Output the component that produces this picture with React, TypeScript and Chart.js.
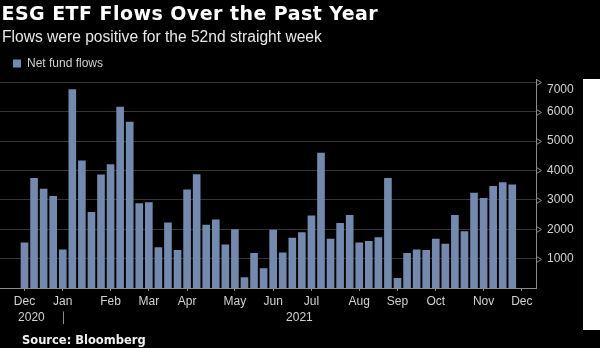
import React, { useEffect, useRef } from 'react';
import { Chart, registerables } from 'chart.js';

Chart.register(...registerables);

// Weekly net fund flows into ESG ETFs (USD millions), Dec 2020 – Nov 2021
const flows = [
  1550, 3740, 3380, 3130, 1310, 6760, 4340, 2590, 3860, 4210,
  6170, 5660, 2880, 2920, 1390, 2230, 1290, 3350, 3870, 2150,
  2330, 1480, 2000, 370, 1190, 670, 1980, 1210, 1710, 1900,
  2470, 4600, 1680, 2210, 2480, 1550, 1600, 1730, 3740, 340,
  1190, 1310, 1290, 1680, 1510, 2480, 1930, 3240, 3060, 3470,
  3600, 3520,
];
const weekIndex = flows.map((_, i) => i + 1);

// First week of each month on the week axis
const monthTickWeeks = [1, 5, 10, 14, 18, 23, 27, 31, 36, 40, 44, 49, 53];
const monthLabels = ['Dec', 'Jan', 'Feb', 'Mar', 'Apr', 'May', 'Jun', 'Jul', 'Aug', 'Sep', 'Oct', 'Nov', 'Dec'];
const yearLabels = ['2020', '2021'];
const yearBreakWeek = 5;

const yTickValues = [1000, 2000, 3000, 4000, 5000, 6000, 7000];

const seriesLabel = 'Net fund flows';
const titleText = 'ESG ETF Flows Over the Past Year';
const subtitleText = 'Flows were positive for the 52nd straight week';
const sourceText = 'Source: Bloomberg';

const BAR = '#7389ad';
const AXIS = '#8c8c8c';
const GRID = '#353535';
const LABEL = '#d2d2d2';
const SANS = '"Liberation Sans", Arial, sans-serif';

export default function App() {
  const ref = useRef<HTMLCanvasElement | null>(null);

  useEffect(() => {
    const canvas = ref.current;
    if (!canvas) return;

    const decor = {
      id: 'decor',
      afterDraw(chart: any) {
        const { ctx, chartArea, scales } = chart;
        const x = scales.x;
        const y = scales.y;
        ctx.save();
        // open triangle markers on the right axis
        ctx.strokeStyle = AXIS;
        ctx.lineWidth = 1;
        y.ticks.forEach((t: any) => {
          const py = Math.round(y.getPixelForValue(t.value)) + 0.5;
          const px = Math.round(chartArea.right) + 0.5;
          ctx.beginPath();
          ctx.moveTo(px, py - 3);
          ctx.lineTo(px + 5, py);
          ctx.lineTo(px, py + 3);
          ctx.closePath();
          ctx.stroke();
        });
        // year labels under the month labels
        const jx = x.getPixelForValue(yearBreakWeek);
        const spans = [
          [chartArea.left, jx],
          [jx, chartArea.right],
        ];
        ctx.fillStyle = LABEL;
        ctx.font = '12px ' + SANS;
        ctx.textAlign = 'center';
        ctx.textBaseline = 'middle';
        yearLabels.forEach((lab, i) => {
          const [a, b] = spans[i];
          ctx.fillText(lab, (a + b) / 2, chartArea.bottom + 30);
        });
        // separator between years
        ctx.strokeStyle = AXIS;
        ctx.beginPath();
        ctx.moveTo(Math.round(jx) + 0.5, chartArea.bottom + 23.5);
        ctx.lineTo(Math.round(jx) + 0.5, chartArea.bottom + 36);
        ctx.stroke();
        ctx.restore();
      },
    };

    const chart = new Chart(canvas, {
      type: 'bar',
      data: {
        datasets: [
          {
            label: seriesLabel,
            data: weekIndex.map((w, i) => ({ x: w, y: flows[i] })),
            backgroundColor: BAR,
            borderWidth: 0,
            barPercentage: 0.8,
            categoryPercentage: 1,
          },
        ],
      },
      options: {
        responsive: false,
        animation: false,
        layout: { padding: { top: 44.5, left: 0, right: 0, bottom: 0 } },
        plugins: {
          legend: {
            display: true,
            position: 'top',
            align: 'start',
            labels: {
              boxWidth: 8,
              boxHeight: 8,
              padding: 13,
              color: LABEL,
              font: { family: SANS, size: 12 },
            },
          },
          tooltip: { enabled: false },
          title: { display: false },
        },
        scales: {
          x: {
            type: 'linear',
            min: -1.561,
            max: 54.48,
            offset: false,
            afterBuildTicks: (scale: any) => {
              scale.ticks = monthTickWeeks.map((v) => ({ value: v }));
            },
            afterFit: (scale: any) => {
              scale.height = 60;
            },
            grid: {
              offset: false,
              drawOnChartArea: false,
              drawTicks: true,
              tickLength: 3,
              tickColor: AXIS,
            },
            border: { display: true, color: AXIS, width: 1 },
            ticks: {
              autoSkip: false,
              maxRotation: 0,
              padding: 3.5,
              color: LABEL,
              font: { family: SANS, size: 12 },
              callback: (_v: any, i: number) => monthLabels[i],
            },
          },
          y: {
            type: 'linear',
            position: 'right',
            min: 0,
            max: 7095,
            afterBuildTicks: (scale: any) => {
              scale.ticks = yTickValues.map((v) => ({ value: v }));
            },
            afterFit: (scale: any) => {
              scale.width = 64;
            },
            grid: {
              color: GRID,
              drawTicks: true,
              tickLength: 6,
              tickColor: 'rgba(0,0,0,0)',
            },
            border: { display: true, color: AXIS, width: 1 },
            ticks: {
              padding: 5,
              color: LABEL,
              font: { family: SANS, size: 12 },
              callback: (v: any) => (v === yTickValues[yTickValues.length - 1] ? ['', String(v)] : String(v)),
            },
          },
        },
      },
      plugins: [decor],
    } as any);

    return () => chart.destroy();
  }, []);

  return (
    <div
      style={{
        position: 'fixed',
        left: 0,
        top: 0,
        width: 600,
        height: 348,
        background: '#000',
        overflow: 'hidden',
      }}
    >
      <canvas ref={ref} width={600} height={348} style={{ position: 'absolute', left: 0, top: 0 }} />
      <div
        style={{
          position: 'absolute',
          left: 1.5,
          top: 3.9,
          font: 'bold 19px "DejaVu Sans", sans-serif',
          lineHeight: '19px',
          letterSpacing: '0.45px',
          color: '#fff',
          whiteSpace: 'nowrap',
        }}
      >
        {titleText}
      </div>
      <div
        style={{
          position: 'absolute',
          left: 2,
          top: 29.1,
          font: '15.6px ' + SANS,
          lineHeight: '15.6px',
          color: '#e8e8e8',
          whiteSpace: 'nowrap',
        }}
      >
        {subtitleText}
      </div>
      <div
        style={{
          position: 'absolute',
          left: 22,
          top: 334.5,
          font: 'bold 11.5px "DejaVu Sans", sans-serif',
          lineHeight: '11.5px',
          color: '#f0f0f0',
          whiteSpace: 'nowrap',
        }}
      >
        {sourceText}
      </div>
      <div
        style={{
          position: 'absolute',
          left: 583,
          top: 79,
          width: 17,
          height: 251,
          background: '#fff',
        }}
      />
    </div>
  );
}
